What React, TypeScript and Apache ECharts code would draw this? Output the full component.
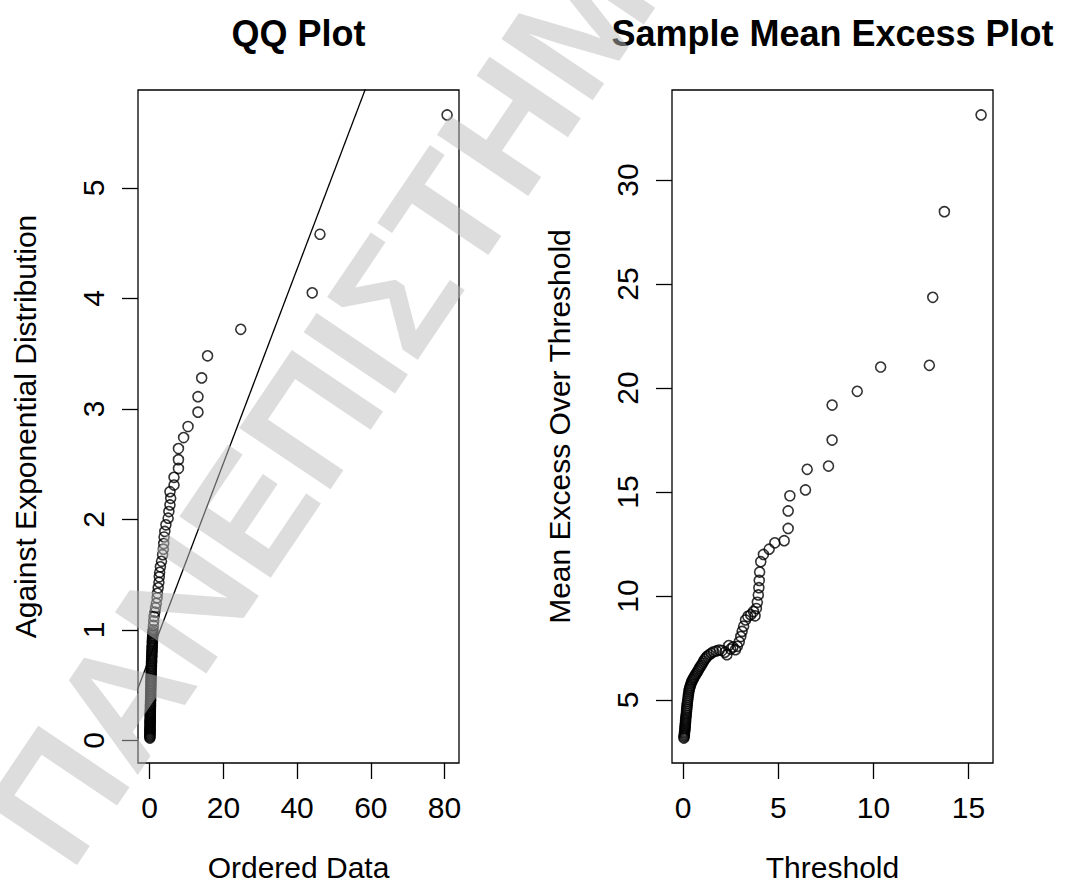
import React, { useEffect, useRef } from "react";
import * as echarts from "echarts";

// ---------- data ----------
const panelTitles = ["QQ Plot", "Sample Mean Excess Plot"];
const xAxisNames = ["Ordered Data", "Threshold"];
const yAxisNames = ["Against Exponential Distribution", "Mean Excess Over Threshold"];

const qqXTicks = [0, 20, 40, 60, 80];
const qqYTicks = [0, 1, 2, 3, 4, 5];
const meXTicks = [0, 5, 10, 15];
const meYTicks = [5, 10, 15, 20, 25, 30];

// QQ plot: [ordered data, exponential quantile]
const qqPoints: number[][] = [
  [80.7, 5.66], [46.2, 4.58], [44.1, 4.05], [24.7, 3.72], [15.7, 3.48], [14.1, 3.28],
  [13.1, 3.11], [13.1, 2.97], [10.4, 2.84], [9.2, 2.74], [7.8, 2.64], [7.8, 2.54],
  [7.8, 2.46], [6.6, 2.38], [6.6, 2.31], [5.5, 2.25], [5.7, 2.19], [5.5, 2.13],
  [5.2, 2.07], [5.0, 2.01], [4.4, 1.95], [4.1, 1.89], [3.9, 1.84], [3.8, 1.78],
  [3.7, 1.73], [3.5, 1.68], [3.2, 1.62], [2.9, 1.57], [2.7, 1.52], [2.6, 1.48],
  [2.5, 1.43], [2.3, 1.38], [2.1, 1.33], [2.0, 1.29], [1.8, 1.24], [1.6, 1.2],
  [1.4, 1.16], [1.2, 1.12], [1.1, 1.08], [1.0, 1.04], [0.92, 1.0],
  [0.86, 0.98], [0.84, 0.965], [0.81, 0.95], [0.79, 0.935], [0.77, 0.92], [0.75, 0.905],
  [0.73, 0.89], [0.71, 0.875], [0.69, 0.86], [0.67, 0.845], [0.65, 0.83], [0.63, 0.815],
  [0.61, 0.8], [0.59, 0.785], [0.57, 0.77], [0.55, 0.755], [0.54, 0.74], [0.52, 0.725],
  [0.51, 0.71], [0.49, 0.695], [0.48, 0.68], [0.46, 0.665], [0.45, 0.65], [0.43, 0.635],
  [0.42, 0.62], [0.41, 0.605], [0.39, 0.59], [0.38, 0.575], [0.37, 0.56], [0.36, 0.545],
  [0.35, 0.53], [0.34, 0.515], [0.33, 0.5], [0.32, 0.485], [0.31, 0.47], [0.3, 0.455],
  [0.29, 0.44], [0.28, 0.425], [0.27, 0.41], [0.26, 0.395], [0.25, 0.38], [0.24, 0.365],
  [0.23, 0.35], [0.22, 0.335], [0.21, 0.32], [0.2, 0.305], [0.19, 0.29], [0.18, 0.275],
  [0.17, 0.26], [0.16, 0.25], [0.16, 0.24], [0.15, 0.23], [0.15, 0.22], [0.14, 0.21],
  [0.14, 0.2], [0.13, 0.19], [0.13, 0.18], [0.12, 0.17], [0.12, 0.16], [0.11, 0.15],
  [0.11, 0.14], [0.1, 0.13], [0.1, 0.12], [0.09, 0.11], [0.09, 0.1], [0.08, 0.09],
  [0.08, 0.08], [0.07, 0.07], [0.07, 0.06], [0.06, 0.05], [0.06, 0.04], [0.05, 0.03],
  [0.05, 0.02],
];

// fitted reference line of the QQ plot
const qqLineIntercept = 0.75;
const qqLineSlope = 0.0879;
const qqLineXRange = [-10, 70];

// Mean excess plot: [threshold, mean excess]
const mePoints: number[][] = [
  [0.04, 3.17], [0.05, 3.23], [0.06, 3.29], [0.07, 3.35], [0.07, 3.42], [0.08, 3.49],
  [0.09, 3.56], [0.1, 3.63], [0.1, 3.7], [0.11, 3.78], [0.12, 3.86], [0.13, 3.94],
  [0.13, 4.02], [0.14, 4.1], [0.15, 4.19], [0.16, 4.28], [0.17, 4.37], [0.18, 4.46],
  [0.19, 4.55], [0.2, 4.64], [0.21, 4.74], [0.22, 4.84], [0.23, 4.94], [0.25, 5.04],
  [0.26, 5.14], [0.28, 5.24], [0.29, 5.34], [0.31, 5.44], [0.33, 5.53], [0.35, 5.61],
  [0.38, 5.69], [0.41, 5.77], [0.44, 5.85], [0.48, 5.93], [0.52, 6.0], [0.56, 6.07],
  [0.6, 6.14], [0.65, 6.21], [0.7, 6.28], [0.75, 6.36], [0.8, 6.44], [0.85, 6.52],
  [0.9, 6.6], [0.96, 6.68], [1.02, 6.77], [1.08, 6.86], [1.14, 6.95], [1.2, 7.03],
  [1.27, 7.1], [1.37, 7.18], [1.48, 7.25], [1.6, 7.32], [1.75, 7.36], [1.9, 7.4],
  [2.05, 7.38], [2.2, 7.3], [2.3, 7.18], [2.4, 7.62], [2.5, 7.45], [2.62, 7.55],
  [2.75, 7.42], [2.85, 7.58], [2.95, 7.8], [3.03, 8.05], [3.1, 8.3], [3.18, 8.55],
  [3.28, 8.85], [3.4, 9.02], [3.55, 9.1], [3.7, 9.25], [3.78, 9.05], [3.85, 9.4],
  [3.9, 9.7], [3.95, 10.05], [3.98, 10.4], [4.0, 10.75], [4.02, 11.15], [4.08, 11.65],
  [4.22, 12.0], [4.52, 12.25], [4.82, 12.56], [5.31, 12.66], [5.52, 13.25], [5.52, 14.09],
  [5.61, 14.82], [6.43, 15.1], [6.52, 16.09], [7.64, 16.25], [7.83, 17.5], [7.83, 19.18],
  [9.15, 19.84], [10.38, 21.01], [12.94, 21.09], [13.12, 24.36], [13.73, 28.48], [15.66, 33.13],
];

const watermarkText = "ΠΑΝΕΠΙΣΤΗΜΙΟ ΠΕΙΡΑΙΩΣ";

// ---------- helpers ----------
const FONT = "'Liberation Sans', Arial, Helvetica, sans-serif";

function paddedRange(values: number[]): [number, number] {
  const lo = Math.min(...values);
  const hi = Math.max(...values);
  const pad = (hi - lo) * 0.04;
  return [lo - pad, hi + pad];
}

function makeXAxis(gridIndex: number, range: [number, number], ticks: number[], name: string) {
  return {
    type: "value",
    gridIndex,
    min: range[0],
    max: range[1],
    name,
    nameLocation: "middle",
    nameGap: 89,
    nameMoveOverlap: false,
    nameTextStyle: { fontFamily: FONT, fontSize: 30, color: "#000" },
    axisLine: { show: false, onZero: false },
    axisTick: { show: true, inside: false, length: 16, customValues: ticks, lineStyle: { color: "#000", width: 1.3 } },
    axisLabel: {
      show: true, customValues: ticks, margin: 29, fontFamily: FONT, fontSize: 30, color: "#000",
      hideOverlap: false, formatter: (v: number) => String(v),
    },
    splitLine: { show: false },
  };
}

function makeYAxis(gridIndex: number, range: [number, number], ticks: number[], name: string) {
  return {
    type: "value",
    gridIndex,
    min: range[0],
    max: range[1],
    name,
    nameLocation: "middle",
    nameGap: 98,
    nameMoveOverlap: false,
    nameTextStyle: { fontFamily: FONT, fontSize: 30, color: "#000" },
    axisLine: { show: false, onZero: false },
    axisTick: { show: true, inside: false, length: 16, customValues: ticks, lineStyle: { color: "#000", width: 1.3 } },
    axisLabel: {
      show: true, customValues: ticks, margin: 30, rotate: 90, fontFamily: FONT, fontSize: 30, color: "#000",
      hideOverlap: false, formatter: (v: number) => String(v),
    },
    splitLine: { show: false },
  };
}

const pointStyle = { color: "rgba(0,0,0,0)", borderColor: "#000", borderWidth: 1.6 };

export default function App() {
  const ref = useRef<HTMLDivElement>(null);

  useEffect(() => {
    if (!ref.current) return;
    const chart = echarts.init(ref.current, undefined, { renderer: "svg" });

    const qqX = paddedRange(qqPoints.map((p) => p[0]));
    const qqY = paddedRange(qqPoints.map((p) => p[1]));
    const meX = paddedRange(mePoints.map((p) => p[0]));
    const meY = paddedRange(mePoints.map((p) => p[1]));

    const qqLineData = qqLineXRange.map((x) => [x, qqLineIntercept + qqLineSlope * x]);

    const gridBase = {
      top: 90, height: 673, width: 321, show: true, borderColor: "#000", borderWidth: 1.3,
      backgroundColor: "transparent", containLabel: false, outerBoundsMode: "none",
    };

    chart.setOption({
      animation: false,
      backgroundColor: "#fff",
      title: [
        { text: panelTitles[0], left: 298.5, top: 15, textAlign: "center", padding: 0,
          textStyle: { fontFamily: FONT, fontSize: 36, fontWeight: "bold", color: "#000" } },
        { text: panelTitles[1], left: 832.5, top: 15, textAlign: "center", padding: 0,
          textStyle: { fontFamily: FONT, fontSize: 36, fontWeight: "bold", color: "#000" } },
      ],
      grid: [
        { ...gridBase, left: 138 },
        { ...gridBase, left: 672 },
      ],
      xAxis: [
        makeXAxis(0, qqX, qqXTicks, xAxisNames[0]),
        makeXAxis(1, meX, meXTicks, xAxisNames[1]),
      ],
      yAxis: [
        makeYAxis(0, qqY, qqYTicks, yAxisNames[0]),
        makeYAxis(1, meY, meYTicks, yAxisNames[1]),
      ],
      series: [
        {
          type: "line", xAxisIndex: 0, yAxisIndex: 0, data: qqLineData, symbol: "none", clip: true,
          lineStyle: { color: "#000", width: 1.3 }, silent: true, z: 3,
        },
        {
          type: "scatter", xAxisIndex: 0, yAxisIndex: 0, data: qqPoints, symbol: "circle", symbolSize: 10,
          itemStyle: pointStyle, silent: true, z: 4,
        },
        {
          type: "scatter", xAxisIndex: 1, yAxisIndex: 1, data: mePoints, symbol: "circle", symbolSize: 10,
          itemStyle: pointStyle, silent: true, z: 4,
        },
      ],
      graphic: [
        {
          type: "text", x: 25, y: 843, rotation: (56 * Math.PI) / 180, z: 100, silent: true,
          style: {
            text: watermarkText, font: `bold 160px ${FONT}`, fill: "rgba(188,188,188,0.5)",
            textAlign: "left", align: "left", textVerticalAlign: "middle", verticalAlign: "middle",
          },
        },
      ],
    });

    return () => chart.dispose();
  }, []);

  return (
    <div
      ref={ref}
      style={{ position: "absolute", left: 0, top: 0, width: 1066, height: 891, background: "#fff" }}
    />
  );
}
